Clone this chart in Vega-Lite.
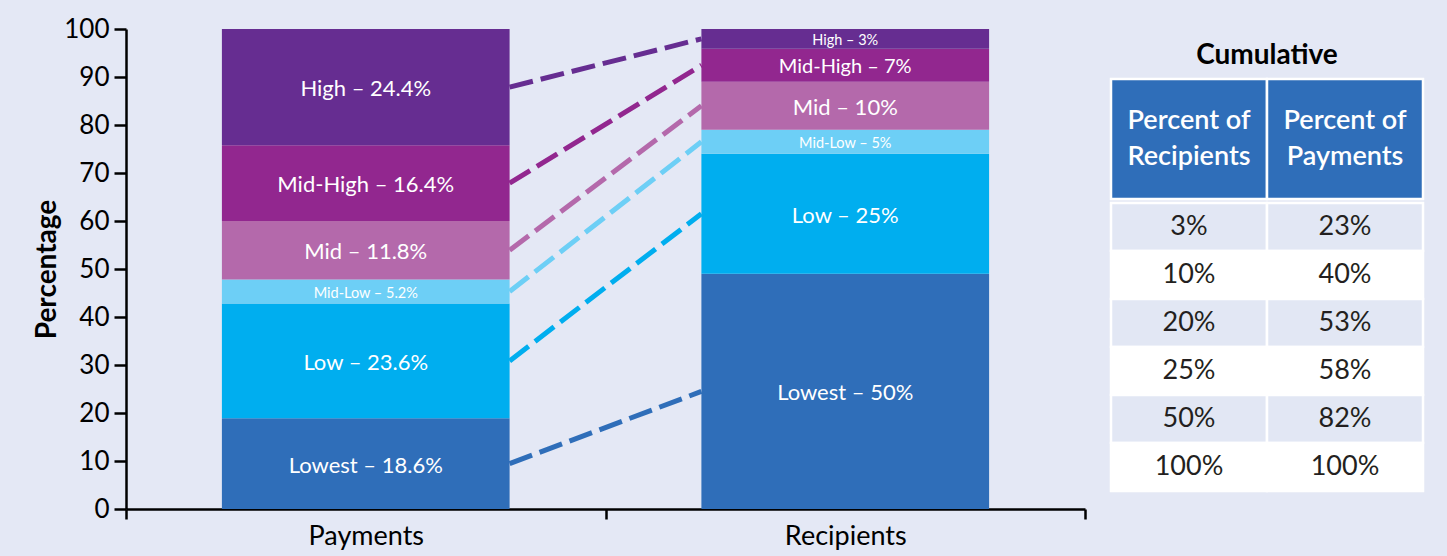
{
  "$schema": "https://vega.github.io/schema/vega-lite/v6.json",
  "background": "#e4e8f5",
  "padding": {"left": 33, "top": 16, "right": 25, "bottom": 10},
  "config": {"view": {"stroke": null}, "font": "Lato", "axis": {"grid": false}},
  "spacing": 22,
  "resolve": {"scale": {"xOffset": "independent"}},
  "datasets": {
    "segments": [
      {"group": "Payments", "level": "Lowest", "rank": 1, "pct": 18.9, "label": "Lowest – 18.6%"},
      {"group": "Payments", "level": "Low", "rank": 2, "pct": 23.9, "label": "Low – 23.6%"},
      {"group": "Payments", "level": "Mid-Low", "rank": 3, "pct": 5.0, "label": "Mid-Low – 5.2%"},
      {"group": "Payments", "level": "Mid", "rank": 4, "pct": 12.2, "label": "Mid – 11.8%"},
      {"group": "Payments", "level": "Mid-High", "rank": 5, "pct": 15.8, "label": "Mid-High – 16.4%"},
      {"group": "Payments", "level": "High", "rank": 6, "pct": 24.2, "label": "High – 24.4%"},
      {"group": "Recipients", "level": "Lowest", "rank": 1, "pct": 49.0, "label": "Lowest – 50%"},
      {"group": "Recipients", "level": "Low", "rank": 2, "pct": 25.0, "label": "Low – 25%"},
      {"group": "Recipients", "level": "Mid-Low", "rank": 3, "pct": 5.0, "label": "Mid-Low – 5%"},
      {"group": "Recipients", "level": "Mid", "rank": 4, "pct": 10.0, "label": "Mid – 10%"},
      {"group": "Recipients", "level": "Mid-High", "rank": 5, "pct": 6.9, "label": "Mid-High – 7%"},
      {"group": "Recipients", "level": "High", "rank": 6, "pct": 4.1, "label": "High – 3%"}
    ],
    "caption": [
      {"text": "Cumulative"}
    ],
    "header": [
      {"column": "Percent of\nRecipients"},
      {"column": "Percent of\nPayments"}
    ],
    "table": [
      {"row": 1, "column": "Recipients", "value": "3%"},
      {"row": 1, "column": "Payments", "value": "23%"},
      {"row": 2, "column": "Recipients", "value": "10%"},
      {"row": 2, "column": "Payments", "value": "40%"},
      {"row": 3, "column": "Recipients", "value": "20%"},
      {"row": 3, "column": "Payments", "value": "53%"},
      {"row": 4, "column": "Recipients", "value": "25%"},
      {"row": 4, "column": "Payments", "value": "58%"},
      {"row": 5, "column": "Recipients", "value": "50%"},
      {"row": 5, "column": "Payments", "value": "82%"},
      {"row": 6, "column": "Recipients", "value": "100%"},
      {"row": 6, "column": "Payments", "value": "100%"}
    ]
  },
  "hconcat": [
    {
      "width": 959,
      "height": 480,
      "data": {"name": "segments"},
      "resolve": {"scale": {"xOffset": "independent"}},
      "encoding": {
        "x": {
          "field": "group", "type": "nominal", "sort": ["Payments", "Recipients"],
          "scale": {"paddingInner": 0, "paddingOuter": 0},
          "axis": {
            "title": null, "labelAngle": 0, "labelFontSize": 27, "labelColor": "black",
            "labelPadding": 4, "tickBand": "extent", "tickSize": 10, "tickWidth": 2.5,
            "tickColor": "black", "domainColor": "black", "domainWidth": 2.5
          }
        },
        "color": {
          "field": "level", "type": "nominal",
          "scale": {
            "domain": ["Lowest", "Low", "Mid-Low", "Mid", "Mid-High", "High"],
            "range": ["#2f6eb9", "#00aeef", "#6dcff6", "#b469ab", "#92278f", "#662d91"]
          },
          "legend": null
        }
      },
      "layer": [
        {
          "mark": {"type": "bar", "width": {"band": 0.6}},
          "encoding": {
            "y": {
              "field": "pct", "type": "quantitative", "stack": "zero",
              "scale": {"domain": [0, 100], "nice": false},
              "axis": {
                "title": "Percentage", "titleFontSize": 28, "titleFontWeight": "bold", "titleColor": "black",
                "titlePadding": 2, "values": [0, 10, 20, 30, 40, 50, 60, 70, 80, 90, 100],
                "labelFontSize": 26, "labelColor": "black", "labelPadding": 5,
                "tickSize": 12, "tickWidth": 2.5, "tickColor": "black",
                "domainColor": "black", "domainWidth": 2.5
              }
            },
            "order": {"field": "rank", "type": "quantitative"}
          }
        },
        {
          "mark": {"type": "line", "strokeDash": [24, 8], "strokeWidth": 5, "strokeCap": "butt"},
          "encoding": {
            "xOffset": {
              "field": "group", "type": "nominal", "sort": ["Recipients", "Payments"],
              "scale": {"type": "point", "padding": 0.3333333}
            },
            "y": {"field": "pct", "type": "quantitative", "stack": "zero", "bandPosition": 0.5},
            "order": {"field": "rank", "type": "quantitative"}
          }
        },
        {
          "mark": {"type": "text", "dy": 2},
          "encoding": {
            "y": {"field": "pct", "type": "quantitative", "stack": "zero", "bandPosition": 0.5},
            "order": {"field": "rank", "type": "quantitative"},
            "color": {"value": "white"},
            "text": {"field": "label"},
            "size": {
              "condition": [
                {"test": "datum.pct < 6", "value": 14.5},
                {"test": "datum.pct < 8", "value": 20}
              ],
              "value": 22
            }
          }
        }
      ]
    },
    {
      "spacing": 0,
      "vconcat": [
        {
          "width": 312,
          "height": 48,
          "data": {"name": "caption"},
          "mark": {"type": "text", "fontSize": 28, "fontWeight": "bold", "color": "black", "dy": 3},
          "encoding": {"text": {"field": "text"}}
        },
        {
          "width": 312,
          "height": 120,
          "data": {"name": "header"},
          "layer": [
            {
              "mark": {"type": "rect", "fill": "#2f6eb9", "stroke": "white", "strokeWidth": 2.5},
              "encoding": {
                "x": {"field": "column", "type": "nominal", "sort": null, "axis": null, "scale": {"padding": 0}}
              }
            },
            {
              "mark": {"type": "text", "color": "white", "fontSize": 27, "fontWeight": 600, "lineBreak": "\n", "lineHeight": 36, "dy": -18},
              "encoding": {
                "x": {"field": "column", "type": "nominal", "sort": null},
                "text": {"field": "column"}
              }
            }
          ]
        },
        {
          "width": 312,
          "height": 288,
          "data": {"name": "table"},
          "layer": [
            {
              "mark": {"type": "rect", "stroke": "white", "strokeWidth": 2.5},
              "encoding": {
                "x": {"field": "column", "type": "nominal", "sort": ["Recipients", "Payments"], "axis": null, "scale": {"padding": 0}},
                "y": {"field": "row", "type": "ordinal", "axis": null, "scale": {"padding": 0}},
                "fill": {"condition": {"test": "datum.row % 2 === 1", "value": "#e2e7f4"}, "value": "white"}
              }
            },
            {
              "mark": {"type": "text", "fontSize": 27, "color": "#231f20"},
              "encoding": {
                "x": {"field": "column", "type": "nominal", "sort": ["Recipients", "Payments"]},
                "y": {"field": "row", "type": "ordinal"},
                "text": {"field": "value"}
              }
            }
          ]
        }
      ]
    }
  ]
}
